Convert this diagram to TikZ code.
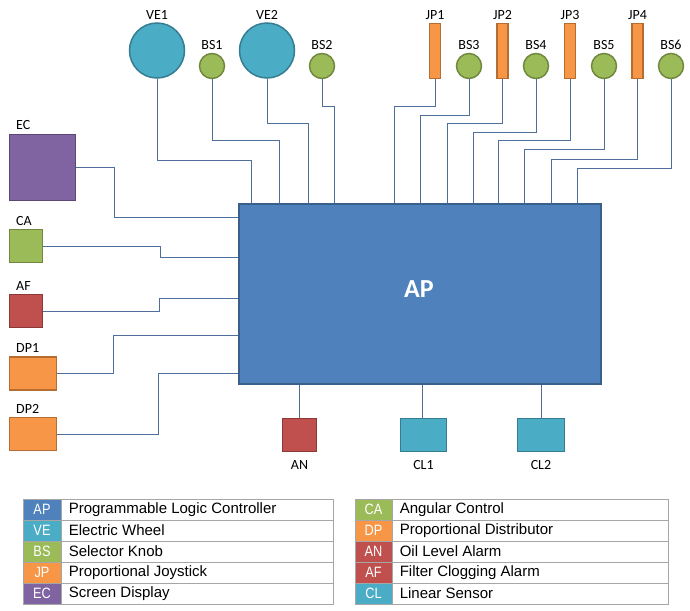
\documentclass[tikz,border=0pt]{standalone}
\usepackage{fontspec}
\setmainfont{Carlito}
\newfontfamily\legfont{Liberation Sans}
\newfontfamily\narrowfont[FakeStretch=0.85]{Liberation Sans}
\definecolor{apF}{HTML}{4F81BD}\definecolor{apB}{HTML}{3A5F8B}
\definecolor{veF}{HTML}{4BACC6}\definecolor{veB}{HTML}{357D91}
\definecolor{bsF}{HTML}{9BBB59}\definecolor{bsB}{HTML}{71893F}
\definecolor{jpF}{HTML}{F79646}\definecolor{jpB}{HTML}{B66D31}
\definecolor{ecF}{HTML}{8064A2}\definecolor{ecB}{HTML}{5C4776}
\definecolor{anF}{HTML}{C0504D}\definecolor{anB}{HTML}{8C3836}
\definecolor{connC}{HTML}{4E6E9C}
\definecolor{legB}{HTML}{A6A6A6}
\begin{document}
\begin{tikzpicture}[x=1pt,y=-1pt,
  lbl/.style={anchor=base,font=\fontsize{14}{14}\selectfont,inner sep=0pt},
  lblw/.style={anchor=base west,font=\fontsize{14}{14}\selectfont,inner sep=0pt},
  conn/.style={draw=connC,line width=0.9pt},
  wheel/.style={circle,draw=veB,fill=veF,line width=1.5pt,minimum size=55pt,inner sep=0pt},
  knob/.style={circle,draw=bsB,fill=bsF,line width=1.5pt,minimum size=25pt,inner sep=0pt},
  joy/.style={rectangle,draw=jpB,fill=jpF,line width=1.5pt,minimum width=11pt,minimum height=55pt,inner sep=0pt},
  box/.style={rectangle,line width=1.5pt,inner sep=0pt},
  legcode/.style={rectangle,draw=legB,line width=0.8pt,text=white,inner sep=0pt,font=\narrowfont\fontsize{15}{15}\selectfont},
  legtext/.style={rectangle,draw=legB,line width=0.8pt,inner sep=0pt,text=black,font=\legfont\fontsize{15}{15}\selectfont},
]
\useasboundingbox (0,0) rectangle (690,610);

% central controller
\node[box,draw=apB,fill=apF,line width=2pt,minimum width=362pt,minimum height=180pt] (ap) at (419.5,293.5) {};
\node[anchor=base,inner sep=0pt,text=white,font=\fontsize{26}{26}\selectfont\bfseries] (aplbl) at (419,297.7) {AP};

% top devices
\node[wheel] (ve1) at (157,50.5) {};
\node[lbl] (ve1l) at (157,19.5) {VE1};
\node[knob] (bs1) at (212,66) {};
\node[lbl] (bs1l) at (212,49.3) {BS1};
\node[wheel] (ve2) at (267,50.5) {};
\node[lbl] (ve2l) at (267,19.5) {VE2};
\node[knob] (bs2) at (322,66) {};
\node[lbl] (bs2l) at (322,49.3) {BS2};

\node[joy] (jp1) at (435,51) {};
\node[lbl] (jp1l) at (435,20) {JP1};
\node[knob] (bs3) at (469,66) {};
\node[lbl] (bs3l) at (469,50) {BS3};
\node[joy] (jp2) at (502.5,51) {};
\node[lbl] (jp2l) at (502.5,20) {JP2};
\node[knob] (bs4) at (536,66) {};
\node[lbl] (bs4l) at (536,50) {BS4};
\node[joy] (jp3) at (570,51) {};
\node[lbl] (jp3l) at (570,20) {JP3};
\node[knob] (bs5) at (604,66) {};
\node[lbl] (bs5l) at (604,50) {BS5};
\node[joy] (jp4) at (637.5,51) {};
\node[lbl] (jp4l) at (637.5,20) {JP4};
\node[knob] (bs6) at (671,66) {};
\node[lbl] (bs6l) at (671,50) {BS6};

% left devices
\node[box,draw=ecB,fill=ecF,minimum width=66pt,minimum height=66pt] (ec) at (42.5,167.5) {};
\node[lblw] (ecl) at (16,129.3) {EC};
\node[box,draw=bsB,fill=bsF,minimum width=33pt,minimum height=33pt] (ca) at (26,246) {};
\node[lblw] (cal) at (16,225.7) {CA};
\node[box,draw=anB,fill=anF,minimum width=33pt,minimum height=33pt] (af) at (26,311) {};
\node[lblw] (afl) at (16,290) {AF};
\node[box,draw=jpB,fill=jpF,minimum width=47pt,minimum height=33pt] (dp1) at (33,373.5) {};
\node[lblw] (dp1l) at (16,352.7) {DP1};
\node[box,draw=jpB,fill=jpF,minimum width=47pt,minimum height=33pt] (dp2) at (33,434) {};
\node[lblw] (dp2l) at (16,413) {DP2};

% bottom devices
\node[box,draw=anB,fill=anF,minimum width=34pt,minimum height=33pt] (an) at (299.5,435) {};
\node[lbl] (anl) at (299.5,469) {AN};
\node[box,draw=veB,fill=veF,minimum width=46pt,minimum height=33pt] (cl1) at (423.5,435) {};
\node[lbl] (cl1l) at (423.5,469) {CL1};
\node[box,draw=veB,fill=veF,minimum width=47pt,minimum height=33pt] (cl2) at (541,435) {};
\node[lbl] (cl2l) at (541,469) {CL2};

% connectors, top
\begin{scope}[on background layer/.style={}]
\draw[conn] (ve1.south) |- (251,160) -- (251,160 |- ap.north);
\draw[conn] (bs1.south) |- (279,140) -- (279,140 |- ap.north);
\draw[conn] (ve2.south) |- (308,123) -- (308,123 |- ap.north);
\draw[conn] (bs2.south) |- (334,106) -- (334,106 |- ap.north);
\draw[conn] (jp1.south) |- (394,106) -- (394,106 |- ap.north);
\draw[conn] (bs3.south) |- (420,115) -- (420,115 |- ap.north);
\draw[conn] (jp2.south) |- (447,123) -- (447,123 |- ap.north);
\draw[conn] (bs4.south) |- (473,132) -- (473,132 |- ap.north);
\draw[conn] (jp3.south) |- (498,140) -- (498,140 |- ap.north);
\draw[conn] (bs5.south) |- (524,149) -- (524,149 |- ap.north);
\draw[conn] (jp4.south) |- (551,159) -- (551,159 |- ap.north);
\draw[conn] (bs6.south) |- (577,168) -- (577,168 |- ap.north);
% left
\draw[conn] (ec.east) -| (114,217) -- (ap.west |- 114,217);
\draw[conn] (ca.east) -| (160,257) -- (ap.west |- 160,257);
\draw[conn] (af.east) -| (159,298) -- (ap.west |- 159,298);
\draw[conn] (dp1.east) -| (113,335) -- (ap.west |- 113,335);
\draw[conn] (dp2.east) -| (158,373) -- (ap.west |- 158,373);
% bottom
\draw[conn] (ap.south -| an.north) -- (an.north);
\draw[conn] (ap.south -| 422,0) -- (422,0 |- cl1.north);
\draw[conn] (ap.south -| cl2.north) -- (cl2.north);
\end{scope}

% legend
\foreach \i/\code/\col/\txt in {0/AP/apF/Programmable Logic Controller,1/VE/veF/Electric Wheel,2/BS/bsF/Selector Knob,3/JP/jpF/Proportional Joystick,4/EC/ecF/Screen Display}{
  \node[legcode,fill=\col,minimum width=38pt,minimum height=21pt] (lc\i) at (42,509.5+21*\i) {\code};
  \node[legtext,minimum width=272pt,minimum height=21pt] (lt\i) at (197,509.5+21*\i) {};
  \node[anchor=west,inner sep=0pt,font=\legfont\fontsize{15}{15}\selectfont] (ltt\i) at ([xshift=8pt]lt\i.west) {\txt};
}
\foreach \i/\code/\col/\txt in {0/CA/bsF/Angular Control,1/DP/jpF/Proportional Distributor,2/AN/anF/Oil Level Alarm,3/AF/anF/Filter Clogging Alarm,4/CL/veF/Linear Sensor}{
  \node[legcode,fill=\col,minimum width=37pt,minimum height=21pt] (rc\i) at (373.5,509.5+21*\i) {\code};
  \node[legtext,minimum width=276pt,minimum height=21pt] (rt\i) at (530,509.5+21*\i) {};
  \node[anchor=west,inner sep=0pt,font=\legfont\fontsize{15}{15}\selectfont] (rtt\i) at ([xshift=8pt]rt\i.west) {\txt};
}
\end{tikzpicture}
\end{document}
